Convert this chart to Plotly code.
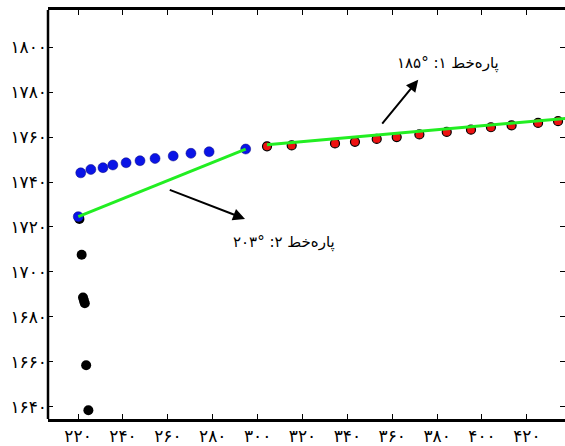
import plotly.graph_objects as go

# ---- data ----
black_x = [220.6, 221.6, 222.2, 222.6, 223.0, 223.6, 224.6]
black_y = [1723.6, 1707.6, 1688.6, 1687.3, 1686.0, 1658.4, 1638.4]

blue_x = [220.1, 221.2, 225.7, 231.1, 235.5, 241.4, 247.6, 254.3, 262.4, 270.3, 278.4, 294.7]
blue_y = [1724.6, 1744.1, 1745.6, 1746.4, 1747.6, 1748.6, 1749.5, 1750.5, 1751.6, 1752.8, 1753.5, 1754.7]

red_x = [304.2, 315.2, 334.5, 343.4, 353.1, 362.0, 372.1, 384.3, 395.1, 404.0, 413.2, 425.0, 433.9]
red_y = [1755.9, 1756.3, 1757.2, 1757.9, 1759.2, 1760.0, 1761.2, 1762.3, 1763.3, 1764.4, 1765.2, 1766.3, 1767.1]

seg2_x = [220.1, 294.7]
seg2_y = [1724.6, 1754.7]
seg1_x = [304.2, 440.0]
seg1_y = [1756.6, 1768.6]

x_ticks = [220, 240, 260, 280, 300, 320, 340, 360, 380, 400, 420]
x_labels = ["۲۲۰", "۲۴۰", "۲۶۰", "۲۸۰", "۳۰۰", "۳۲۰", "۳۴۰", "۳۶۰", "۳۸۰", "۴۰۰", "۴۲۰"]
y_ticks = [1640, 1660, 1680, 1700, 1720, 1740, 1760, 1780, 1800]
y_labels = ["۱۶۴۰", "۱۶۶۰", "۱۶۸۰", "۱۷۰۰", "۱۷۲۰", "۱۷۴۰", "۱۷۶۰", "۱۷۸۰", "۱۸۰۰"]

label1 = "پاره‌خط ۱: °۱۸۵"
label2 = "پاره‌خط ۲: °۲۰۳"

FONT = "DejaVu Sans"

fig = go.Figure()
fig.add_trace(go.Scatter(x=black_x, y=black_y, mode="markers",
                         marker=dict(color="black", size=10), showlegend=False))
fig.add_trace(go.Scatter(x=blue_x, y=blue_y, mode="markers",
                         marker=dict(color="#0a14e6", size=10, line=dict(color="#0a0a80", width=0.5)),
                         showlegend=False))
fig.add_trace(go.Scatter(x=red_x, y=red_y, mode="markers",
                         marker=dict(color="#ee1111", size=9, line=dict(color="black", width=1.2)),
                         showlegend=False))
fig.add_trace(go.Scatter(x=seg2_x, y=seg2_y, mode="lines",
                         line=dict(color="#22ee22", width=3), showlegend=False))
fig.add_trace(go.Scatter(x=seg1_x, y=seg1_y, mode="lines",
                         line=dict(color="#22ee22", width=3), showlegend=False))

# arrows
fig.add_annotation(x=371.6, y=1785.6, ax=355.0, ay=1765.3, xref="x", yref="y",
                   axref="x", ayref="y", text="", showarrow=True,
                   arrowhead=2, arrowsize=1.2, arrowwidth=2, arrowcolor="black")
fig.add_annotation(x=294.4, y=1723.6, ax=260.2, ay=1736.8, xref="x", yref="y",
                   axref="x", ayref="y", text="", showarrow=True,
                   arrowhead=2, arrowsize=1.2, arrowwidth=2, arrowcolor="black")
fig.add_annotation(x=384.8, y=1792.9, xref="x", yref="y", text=label1, showarrow=False,
                   font=dict(family=FONT, size=15, color="black"))
fig.add_annotation(x=311.8, y=1713.3, xref="x", yref="y", text=label2, showarrow=False,
                   font=dict(family=FONT, size=15, color="black"))

# left axis line (no right line in the cropped reference)
fig.add_shape(type="line", xref="paper", yref="paper", x0=0, x1=0, y0=0, y1=1,
              line=dict(color="black", width=2.5))

fig.update_xaxes(range=[206.6, 437.0], tickvals=x_ticks, ticktext=x_labels,
                 showline=True, linecolor="black", linewidth=2.5, mirror="ticks",
                 ticks="inside", ticklen=5, tickcolor="black", tickwidth=1,
                 showgrid=False, zeroline=False,
                 tickfont=dict(family=FONT, size=17, color="black"))
fig.update_yaxes(range=[1634.5, 1816.6], tickvals=y_ticks, ticktext=y_labels,
                 showline=False, mirror="ticks",
                 ticks="inside", ticklen=5, tickcolor="black", tickwidth=1,
                 showgrid=False, zeroline=False,
                 tickfont=dict(family=FONT, size=17, color="black"))

fig.update_layout(width=565, height=446, margin=dict(l=48, r=0, t=10, b=27, autoexpand=False),
                  plot_bgcolor="white", paper_bgcolor="white")

fig.write_html("out.html", config={"displayModeBar": False},
               post_script="document.body.style.margin='0';")
